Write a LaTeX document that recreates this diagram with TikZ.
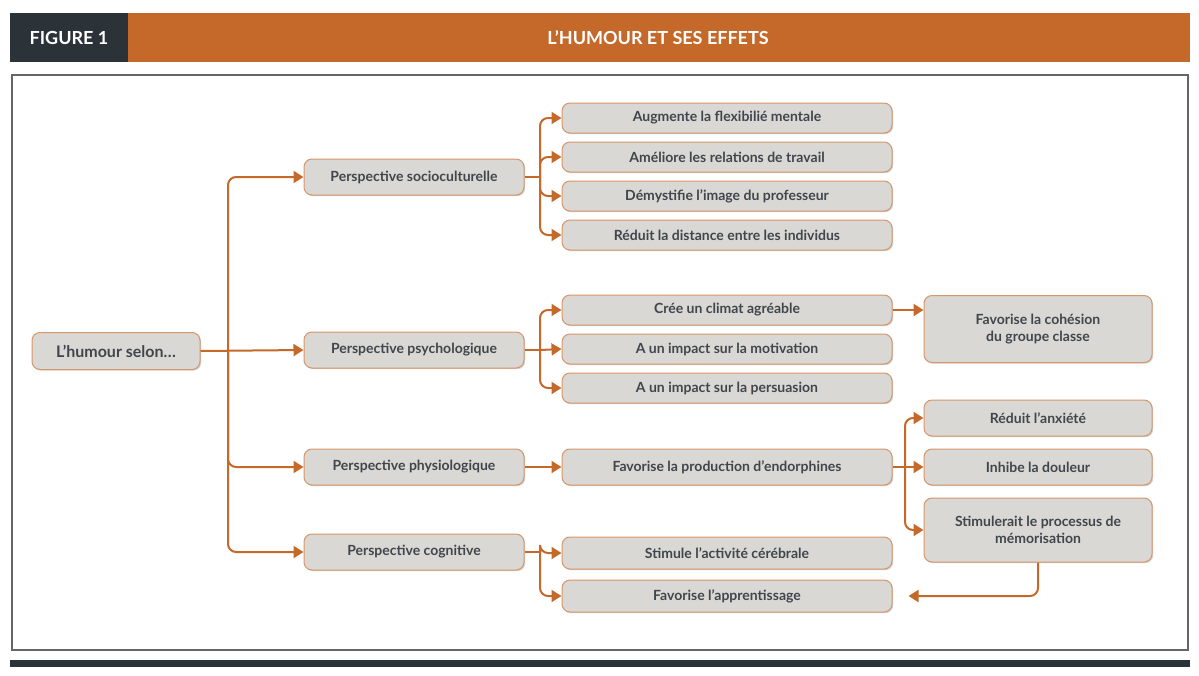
\documentclass[tikz,border=0pt]{standalone}
\usepackage{fontspec}
\setmainfont{Lato}
\usetikzlibrary{arrows.meta,shadows}
\definecolor{org}{HTML}{C4692A}
\definecolor{dark}{HTML}{2B3238}
\definecolor{boxf}{HTML}{D9D8D4}
\begin{document}
\begin{tikzpicture}[x=0.5pt,y=-0.5pt,
 box/.style={draw=org!70!white,line width=0.5pt,fill=boxf,rounded corners=4pt,minimum height=15pt,
   font=\fontsize{7}{8.5}\selectfont\bfseries,text=dark!90,align=center,drop shadow={shadow xshift=0.6pt,shadow yshift=-0.6pt,opacity=0.35}},
 leaf/.style={box,minimum width=165pt},
 right/.style={box,minimum width=114pt},
 persp/.style={box,minimum width=110pt,minimum height=18pt},
 con/.style={org,line width=1pt,rounded corners=4pt},
 arr/.style={con,-{Triangle[width=6pt,length=5pt]}}]
\useasboundingbox (0,0) rectangle (1199,675);
\fill[white] (0,0) rectangle (1199,675);
\fill[dark] (10,13) rectangle (128,62);
\fill[org] (128,13) rectangle (1190,62);
\node[text=white,font=\fontsize{9}{10}\selectfont\bfseries] (fig) at (69,37.5) {FIGURE 1};
\node[text=white,font=\fontsize{9}{10}\selectfont\bfseries] (ttl) at (658,37.5) {L’HUMOUR ET SES EFFETS};
\draw[gray!80!black,line width=0.7pt] (12,75) rectangle (1188,650);
\fill[dark] (10,660) rectangle (1190,667);

\node[box,minimum width=84pt,minimum height=18.5pt,font=\fontsize{8}{9}\selectfont\bfseries] (root) at (116,351) {L’humour selon…};
\node[persp] (p1) at (414,177) {Perspective socioculturelle};
\node[persp] (p2) at (414,350) {Perspective psychologique};
\node[persp] (p3) at (414,467) {Perspective physiologique};
\node[persp] (p4) at (414,552) {Perspective cognitive};

\node[leaf] (a1) at (727,118) {Augmente la flexibilié mentale};
\node[leaf] (a2) at (727,157) {Améliore les relations de travail};
\node[leaf] (a3) at (727,196) {Démystifie l’image du professeur};
\node[leaf] (a4) at (727,235) {Réduit la distance entre les individus};
\node[leaf] (b1) at (727,310) {Crée un climat agréable};
\node[leaf] (b2) at (727,349) {A un impact sur la motivation};
\node[leaf] (b3) at (727,388) {A un impact sur la persuasion};
\node[leaf,minimum height=18pt] (c1) at (727,467) {Favorise la production d’endorphines};
\node[leaf,minimum height=16pt] (d1) at (727,553) {Stimule l’activité cérébrale};
\node[leaf,minimum height=16pt] (d2) at (727,596) {Favorise l’apprentissage};

\node[right,minimum height=33.5pt] (e1) at (1038,329) {Favorise la cohésion\\du groupe classe};
\node[right,minimum height=18pt] (f1) at (1038,418) {Réduit l’anxiété};
\node[right,minimum height=18pt] (f2) at (1038,467) {Inhibe la douleur};
\node[right,minimum height=32pt] (f3) at (1038,530) {Stimulerait le processus de\\mémorisation};

% root to perspectives
\draw[arr] (root.east) -- (p2.west);
\draw[arr] (228,351) |- (p1.west);
\draw[arr] (228,351) |- (p4.west);
\draw[arr] (228,351) |- (p3.west);
% socioculturelle
\draw[con] (p1.east) -- (540,177);
\foreach \n in {a1,a2,a3,a4} \draw[arr] (540,177) |- (\n.west);
% psychologique
\draw[con] (p2.east) -- (540,350);
\foreach \n in {b1,b3} \draw[arr] (540,350) |- (\n.west);
\draw[arr] (540,350) -- (b2.west);
\draw[arr] (b1.east) -- (e1.west |- b1.east);
% physiologique
\draw[arr] (p3.east) -- (c1.west);
\draw[con] (c1.east) -- (905,467);
\foreach \n in {f1,f3} \draw[arr] (905,467) |- (\n.west);
\draw[arr] (905,467) -- (f2.west);
% cognitive
\draw[con] (p4.east) -- (540,552);
\foreach \n in {d1,d2} \draw[arr] (540,552) |- (\n.west);
\draw[arr] (f3.south) |- ([xshift=8pt]d2.east);
\end{tikzpicture}
\end{document}
